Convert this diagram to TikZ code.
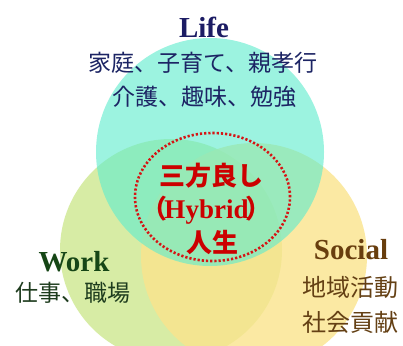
\documentclass[tikz,border=0pt]{standalone}
\usepackage{fontspec}
\setmainfont{Liberation Serif}
\newfontfamily\jpfont{Noto Sans CJK JP}
\usetikzlibrary{shapes.geometric}

\begin{document}
\begin{tikzpicture}[x=1pt, y=-1pt,
   ring/.style = {circle, inner sep=0pt, draw=none,% the three life areas
                  fill opacity=#1},
 lifeC/.style  = {ring=0.62, fill={rgb,255:red,96;green,236;blue,206}, minimum size=228pt},
 workC/.style  = {ring=0.85, fill={rgb,255:red,208;green,233;blue,150}, minimum size=222pt},
 socC/.style   = {ring=0.80, fill={rgb,255:red,250;green,228;blue,140}, minimum size=226pt},
   hub/.style  = {ellipse, draw={rgb,255:red,214;green,20;blue,20}, line width=2.6pt,
                  dash pattern=on 2.2pt off 2pt, minimum width=155pt, minimum height=128pt},
  head/.style  = {font=\fontsize{29}{33}\selectfont\bfseries, inner sep=0pt},
    jp/.style  = {font=\jpfont\fontsize{23}{27}\selectfont, inner sep=0pt},
   red/.style  = {text={rgb,255:red,204;green,0;blue,0}, inner sep=0pt,
                  font=\jpfont\bfseries\fontsize{26}{30}\selectfont},
                        ]
\useasboundingbox (0,0) rectangle (403,345);
\clip (0,0) rectangle (403,345);
\fill[white] (0,0) rectangle (403,345);
% circles
\node[workC] (work) at (171,250) {};
\node[socC]  (soc)  at (254,256) {};
\node[lifeC] (life) at (210,152) {};
\node[hub]   (hyb)  at (212.5,197) {};
% life
\node[head, text={rgb,255:red,28;green,28;blue,100}] (lifeT) at (204,27) {Life};
\node[jp, text={rgb,255:red,28;green,36;blue,100}] (lifeA) at (203,63) {家庭、子育て、親孝行};
\node[jp, text={rgb,255:red,28;green,36;blue,100}] (lifeB) at (204,97) {介護、趣味、勉強};
% work
\node[head, text={rgb,255:red,22;green,70;blue,22}] (workT) at (74,262) {Work};
\node[jp, text={rgb,255:red,30;green,60;blue,30}] (workA) at (73,293) {仕事、職場};
% social
\node[head, text={rgb,255:red,104;green,62;blue,14}] (socT) at (351,250) {Social};
\node[jp, font=\jpfont\fontsize{24}{28}\selectfont, text={rgb,255:red,100;green,64;blue,20}] (socA) at (350,287) {地域活動};
\node[jp, font=\jpfont\fontsize{24}{28}\selectfont, text={rgb,255:red,100;green,64;blue,20}] (socB) at (350,322) {社会貢献};
% centre
\node[red] (hybA) at (211,176) {三方良し};
\node[red] (hybB) at (206.5,210) {（\kern-3pt{\rmfamily\fontsize{27}{30}\selectfont Hybrid}\kern-3pt）};
\node[red] (hybC) at (212,243) {人生};
\end{tikzpicture}
\end{document}
